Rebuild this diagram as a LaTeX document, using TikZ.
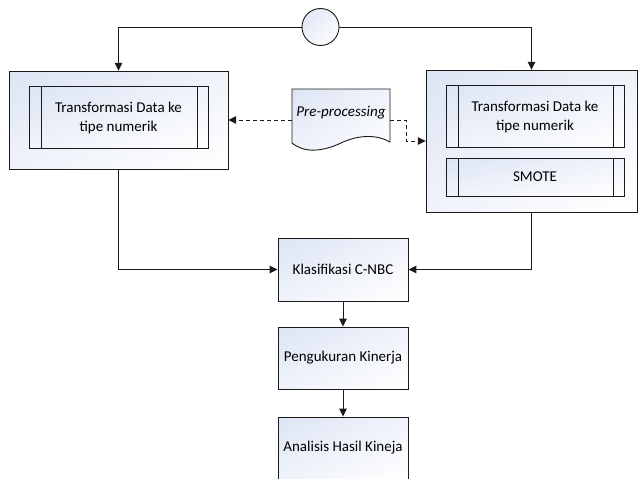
\documentclass[tikz,border=0pt]{standalone}
\usepackage{fontspec}
\setmainfont{Carlito}
\usetikzlibrary{arrows.meta,calc,shadings}
\definecolor{lnc}{HTML}{1A1A1A}
\definecolor{shadeblue}{HTML}{DCE4F4}
\newcommand{\lblfont}{\fontsize{15}{19}\selectfont}
\tikzset{
  boxfill/.style={draw=lnc, line width=0.9pt, shade, upper left=shadeblue, upper right=white!55!shadeblue, lower left=white!55!shadeblue, lower right=white},
  procbox/.style={boxfill, rectangle, inner sep=0pt, align=center, font=\lblfont},
  conn/.style={draw=lnc, line width=1pt, -{Triangle[length=8pt,width=7.5pt]}},
  dconn/.style={conn, dash pattern=on 4pt off 3pt},
  lbl/.style={align=center, font=\lblfont, inner sep=0pt}
}
\begin{document}
\begin{tikzpicture}[x=1pt,y=-1pt]
\useasboundingbox (0,0) rectangle (640,479);
% start circle
\node[boxfill, circle, minimum size=37pt, inner sep=0pt] (start) at (320.5,27) {};
% left outer container
\path[boxfill] (9,71) rectangle (228,169);
\node[inner sep=0pt, minimum width=219pt, minimum height=98pt] (lbox) at (118.5,120) {};
\path[boxfill] (29,86) rectangle (208,148);
\draw[lnc, line width=0.9pt] (41,86) -- (41,148) (197,86) -- (197,148);
\node[lbl] (ltrans) at (118.5,118) {Transformasi Data ke\\tipe numerik};
% right outer container
\path[boxfill] (426,70) rectangle (637,212);
\node[inner sep=0pt, minimum width=211pt, minimum height=142pt] (rbox) at (531.5,141) {};
\path[boxfill] (446,85) rectangle (624,147);
\draw[lnc, line width=0.9pt] (458,85) -- (458,147) (613,85) -- (613,147);
\node[lbl] (rtrans) at (535,117) {Transformasi Data ke\\tipe numerik};
\path[boxfill] (446,158) rectangle (624,196);
\draw[lnc, line width=0.9pt] (458,158) -- (458,196) (613,158) -- (613,196);
\node[lbl] (smote) at (535,177) {SMOTE};
% document shape
\path[boxfill] (292,89) -- (390,89) -- (390,142) .. controls (378,135) and (360,134) .. (341,143) .. controls (322,152) and (304,153) .. (292,143) -- cycle;
\node[inner sep=0pt, minimum width=98pt, minimum height=62pt] (doc) at (341,120) {};
\node[lbl, font=\lblfont\itshape] (pre) at (341,113) {Pre-processing};
% lower process boxes
\node[procbox, minimum width=130pt, minimum height=63pt] (klas) at (343,269.5) {Klasifikasi C-NBC};
\node[procbox, minimum width=130pt, minimum height=62pt] (ukur) at (343,358) {Pengukuran Kinerja};
\node[procbox, minimum width=130pt, minimum height=62pt] (anal) at (343,448) {Analisis Hasil Kineja};
% connectors
\draw[conn] (start.west) -| (lbox.north);
\draw[conn] (start.east) -| (rbox.north);
\draw[dconn] (doc.west |- 0,120) -- (lbox.east |- 0,120);
\coordinate (dk1) at (406,120);
\coordinate (dk2) at (406,141);
\draw[dconn] (doc.east |- 0,120) -- (dk1) -- (dk2) -- (rbox.west |- dk2);
\draw[conn] (lbox.south) |- (klas.west);
\draw[conn] (rbox.south) |- (klas.east);
\draw[conn] (klas) -- (ukur);
\draw[conn] (ukur) -- (anal);
\end{tikzpicture}
\end{document}
